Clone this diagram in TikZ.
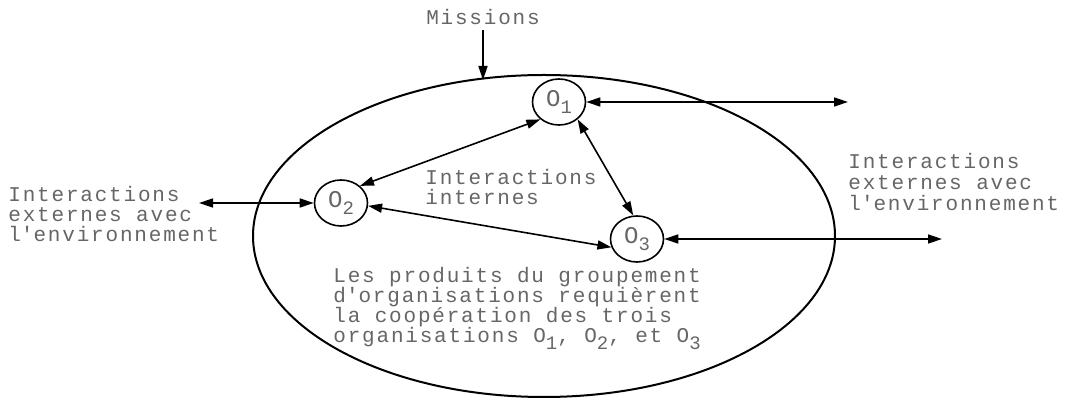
\documentclass[tikz,border=0pt]{standalone}
\usepackage{fontspec}
\usepackage{tikz}
\usetikzlibrary{shapes.geometric,arrows.meta}
\setmainfont{Liberation Mono}[LetterSpace=8.6]
\newcommand\orgsub[1]{\raisebox{-0.6ex}{\fontsize{9.5}{10}\selectfont #1}}
\newcommand\apos{\textquotesingle}

\tikzset{
    org/.style = {draw, ellipse, line width=0.8pt, inner sep=0pt,
                  minimum width=26.5pt, minimum height=23pt,
                  font=\fontsize{12}{10}\selectfont, text=black!60},
    txt/.style = {align=left, inner sep=0pt, anchor=base west,
                  font=\fontsize{10.5}{10}\selectfont, text=black!60},
    fleche/.style = {line width=0.8pt, {Triangle[length=7pt,width=4.5pt]}-{Triangle[length=7pt,width=4.5pt]}}
}

\begin{document}
\begin{tikzpicture}[x=0.5pt,y=-0.5pt]
        \useasboundingbox (0,0) rectangle (1067,400);
        % groupement
        \node[draw, ellipse, line width=1pt, minimum width=291pt, minimum height=161pt] (groupe) at (544,236) {};
        \node[org] (o1) at (559,102) {O\orgsub{1}};   %O1
        \node[org] (o2) at (341,203) {O\orgsub{2}};   %O2
        \node[org] (o3) at (637,239) {O\orgsub{3}};   %O3
        % textes (ancre = ligne de base de la derniere ligne)
        \node[txt, anchor=base] (missions) at (483,25) {Missions};
        \node[txt] (internes) at (425,205) {Interactions\\internes};
        \node[txt] (extgauche) at (8,242) {Interactions\\externes avec\\l\apos environnement};
        \node[txt, font=\fontsize{10.5}{10.7}\selectfont] (extdroite) at (848,211) {Interactions\\externes avec\\l\apos environnement};
        \node[txt] (produits) at (333,343) {Les produits du groupement\\d\apos organisations requièrent\\la coopération des trois\\organisations O\orgsub{1}, O\orgsub{2}, et O\orgsub{3}};
        % bouts libres
        \coordinate (entree) at (483,80);
        \coordinate (sortie1) at (848,102);
        \coordinate (sortie2) at (199,203);
        \coordinate (sortie3) at (942,239);
        % fleches
        \draw[line width=0.8pt, -{Triangle[length=7pt,width=4.5pt]}] (483,30) -- (entree);
        \draw[fleche] (o1.east) -- (sortie1);
        \draw[fleche] (sortie2) -- (o2.west);
        \draw[fleche] (o3.east) -- (sortie3);
        \draw[fleche] (o1.223) -- (o2.42);
        \draw[fleche] (o1.317) -- (o3.99);
        \draw[fleche] (o2.-6) -- (o3.198);
    \end{tikzpicture}
\end{document}
